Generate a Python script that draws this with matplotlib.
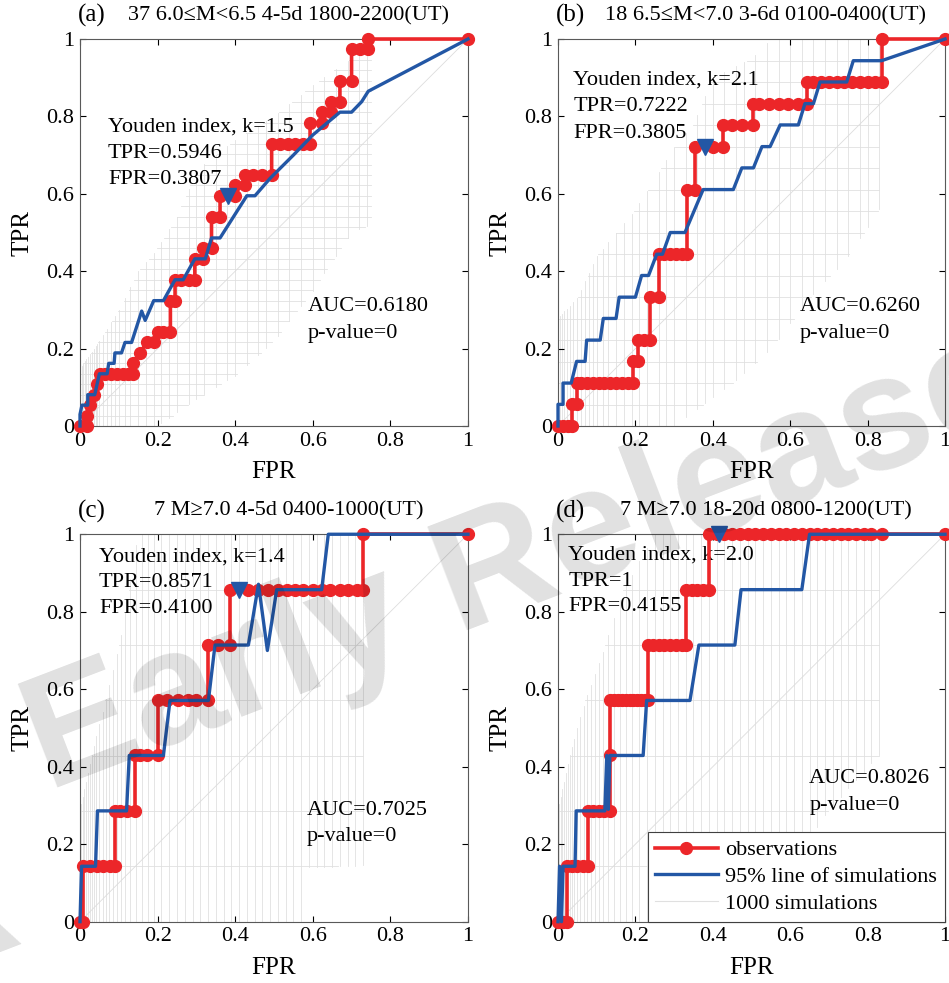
import matplotlib
matplotlib.use("Agg")
import matplotlib.pyplot as plt
from matplotlib.lines import Line2D
import numpy as np

plt.rcParams["font.family"] = ["Liberation Serif", "DejaVu Serif"]

RED = "#ec2629"
BLUE = "#2357a5"
SIM_GRAY = "#e0e0e0"

TICKS = [0, 0.2, 0.4, 0.6, 0.8, 1.0]
TICK_LABELS = ["0", "0.2", "0.4", "0.6", "0.8", "1"]

# ---------------- panel (a) ----------------
a_title = "37 6.0≤M<6.5 4-5d 1800-2200(UT)"
a_obs_fpr = [0, 0.017, 0.017, 0.026, 0.035, 0.045, 0.052, 0.065, 0.08, 0.095, 0.11, 0.125,
             0.137, 0.137, 0.155, 0.172, 0.19, 0.2, 0.215, 0.233, 0.233, 0.245, 0.245, 0.26,
             0.28, 0.296, 0.296, 0.318, 0.318, 0.339, 0.339, 0.361, 0.361, 0.40, 0.40, 0.425,
             0.425, 0.447, 0.468, 0.494, 0.494, 0.515, 0.535, 0.555, 0.575, 0.593, 0.593,
             0.623, 0.623, 0.648, 0.648, 0.67, 0.67, 0.70, 0.70, 0.722, 0.743, 0.743, 1.0]
a_obs_tpr = [0, 0, 0.027, 0.054, 0.081, 0.108, 0.135, 0.135, 0.135, 0.135, 0.135, 0.135,
             0.135, 0.162, 0.189, 0.216, 0.216, 0.243, 0.243, 0.243, 0.324, 0.324, 0.378, 0.378,
             0.378, 0.378, 0.432, 0.432, 0.459, 0.459, 0.541, 0.541, 0.595, 0.595, 0.622, 0.622,
             0.649, 0.649, 0.649, 0.649, 0.730, 0.730, 0.730, 0.730, 0.730, 0.730, 0.784,
             0.784, 0.811, 0.811, 0.838, 0.838, 0.892, 0.892, 0.973, 0.973, 0.973, 1.0, 1.0]
a_sim95_fpr = [0, 0, 0.005, 0.02, 0.02, 0.038, 0.05, 0.07, 0.074, 0.088, 0.09, 0.107, 0.116,
               0.133, 0.159, 0.168, 0.19, 0.215, 0.245, 0.266, 0.296, 0.323, 0.339, 0.361,
               0.43, 0.451, 0.49, 0.55, 0.60, 0.67, 0.70, 0.726, 0.743, 1.0]
a_sim95_tpr = [0, 0.03, 0.054, 0.054, 0.081, 0.081, 0.135, 0.135, 0.162, 0.162, 0.189, 0.189,
               0.216, 0.216, 0.297, 0.273, 0.324, 0.324, 0.378, 0.378, 0.432, 0.432, 0.486,
               0.486, 0.595, 0.595, 0.64, 0.70, 0.752, 0.811, 0.811, 0.838, 0.865, 1.0]
a_youden = (0.3807, 0.5946)
a_text = ["Youden index, k=1.5", "TPR=0.5946", "FPR=0.3807"]
a_auc = ["AUC=0.6180", "p-value=0"]
a_n = 37
a_sim_x = [0.004, 0.008, 0.012, 0.016, 0.02, 0.025, 0.03, 0.035, 0.04, 0.045, 0.05, 0.06,
           0.07, 0.08, 0.09, 0.10, 0.115, 0.13, 0.15, 0.17, 0.19, 0.21, 0.23, 0.25, 0.28,
           0.30, 0.32, 0.35, 0.38, 0.40, 0.43, 0.46, 0.48, 0.51, 0.54, 0.57, 0.60, 0.63,
           0.66, 0.69, 0.72, 0.74]
a_up_x = [0, 0.05, 0.1, 0.15, 0.2, 0.25, 0.3, 0.4, 0.5, 0.6, 0.7, 0.75]
a_up_y = [0.15, 0.22, 0.30, 0.40, 0.46, 0.54, 0.66, 0.74, 0.80, 0.88, 0.95, 0.97]
a_lo_x = [0.2, 0.3, 0.4, 0.5, 0.6, 0.7, 0.75]
a_lo_y = [0, 0.07, 0.13, 0.22, 0.35, 0.5, 0.52]
a_xmax = 0.75

# ---------------- panel (b) ----------------
b_title = "18 6.5≤M<7.0 3-6d 0100-0400(UT)"
b_obs_fpr = [0, 0.013, 0.026, 0.035, 0.035, 0.048, 0.048, 0.06, 0.075, 0.09, 0.105, 0.12,
             0.135, 0.15, 0.165, 0.18, 0.195, 0.195, 0.207, 0.207, 0.222, 0.237, 0.237, 0.26,
             0.26, 0.275, 0.29, 0.305, 0.32, 0.333, 0.333, 0.355, 0.355, 0.40, 0.427, 0.427,
             0.45, 0.475, 0.505, 0.505, 0.52, 0.545, 0.57, 0.595, 0.62, 0.643, 0.643, 0.66,
             0.68, 0.70, 0.72, 0.74, 0.76, 0.78, 0.80, 0.82, 0.836, 0.836, 1.0]
b_obs_tpr = [0, 0, 0, 0, 0.056, 0.056, 0.111, 0.111, 0.111, 0.111, 0.111, 0.111, 0.111,
             0.111, 0.111, 0.111, 0.111, 0.167, 0.167, 0.222, 0.222, 0.222, 0.333, 0.333,
             0.444, 0.444, 0.444, 0.444, 0.444, 0.444, 0.611, 0.611, 0.722, 0.722, 0.722,
             0.778, 0.778, 0.778, 0.778, 0.833, 0.833, 0.833, 0.833, 0.833, 0.833, 0.833,
             0.889, 0.889, 0.889, 0.889, 0.889, 0.889, 0.889, 0.889, 0.889, 0.889, 0.889, 1.0, 1.0]
b_sim95_fpr = [0, 0, 0.013, 0.013, 0.034, 0.048, 0.07, 0.074, 0.109, 0.117, 0.15, 0.158, 0.2,
               0.216, 0.234, 0.255, 0.27, 0.29, 0.328, 0.375, 0.453, 0.475, 0.505, 0.527,
               0.548, 0.574, 0.621, 0.638, 0.66, 0.677, 0.746, 0.763, 0.836, 1.0]
b_sim95_tpr = [0, 0.056, 0.056, 0.111, 0.111, 0.167, 0.167, 0.222, 0.222, 0.278, 0.278, 0.333,
               0.333, 0.389, 0.389, 0.444, 0.444, 0.5, 0.5, 0.611, 0.611, 0.667, 0.667, 0.722,
               0.722, 0.778, 0.778, 0.833, 0.833, 0.889, 0.889, 0.944, 0.944, 1.0]
b_youden = (0.3805, 0.7222)
b_text = ["Youden index, k=2.1", "TPR=0.7222", "FPR=0.3805"]
b_auc = ["AUC=0.6260", "p-value=0"]
b_n = 18
b_sim_x = [0.004, 0.01, 0.016, 0.022, 0.03, 0.04, 0.05, 0.06, 0.07, 0.08, 0.09, 0.10, 0.115,
           0.13, 0.15, 0.17, 0.19, 0.21, 0.23, 0.26, 0.28, 0.30, 0.33, 0.36, 0.38, 0.40,
           0.43, 0.46, 0.48, 0.51, 0.54, 0.57, 0.60, 0.63, 0.66, 0.69, 0.72, 0.75, 0.78,
           0.80, 0.83]
b_up_x = [0, 0.05, 0.1, 0.15, 0.2, 0.3, 0.35, 0.4, 0.5, 0.55]
b_up_y = [0.28, 0.33, 0.44, 0.5, 0.56, 0.72, 0.78, 0.9, 0.95, 1.0]
b_lo_x = [0.3, 0.38, 0.45, 0.55, 0.65, 0.75, 0.83]
b_lo_y = [0, 0.06, 0.11, 0.2, 0.33, 0.44, 0.56]
b_xmax = 0.83

# ---------------- panel (c) ----------------
c_title = "7 M≥7.0 4-5d 0400-1000(UT)"
c_obs_fpr = [0, 0.009, 0.009, 0.026, 0.043, 0.06, 0.077, 0.09, 0.09, 0.103, 0.12, 0.142,
             0.142, 0.155, 0.172, 0.2, 0.2, 0.223, 0.253, 0.279, 0.30, 0.331, 0.331, 0.357,
             0.387, 0.387, 0.434, 0.46, 0.485, 0.511, 0.533, 0.554, 0.576, 0.601, 0.623,
             0.644, 0.67, 0.692, 0.713, 0.73, 0.73, 1.0]
c_obs_tpr = [0, 0, 0.143, 0.143, 0.143, 0.143, 0.143, 0.143, 0.286, 0.286, 0.286, 0.286,
             0.429, 0.429, 0.429, 0.429, 0.571, 0.571, 0.571, 0.571, 0.571, 0.571, 0.714, 0.714,
             0.714, 0.857, 0.857, 0.857, 0.857, 0.857, 0.857, 0.857, 0.857, 0.857, 0.857,
             0.857, 0.857, 0.857, 0.857, 0.857, 1.0, 1.0]
c_sim95_fpr = [0, 0.004, 0.04, 0.045, 0.12, 0.127, 0.215, 0.232, 0.331, 0.348, 0.434, 0.46,
               0.483, 0.507, 0.623, 0.64, 1.0]
c_sim95_tpr = [0, 0.143, 0.143, 0.286, 0.286, 0.429, 0.429, 0.571, 0.571, 0.714, 0.714, 0.871,
               0.70, 0.857, 0.857, 1.0, 1.0]
c_youden = (0.41, 0.8571)
c_text = ["Youden index, k=1.4", "TPR=0.8571", "FPR=0.4100"]
c_auc = ["AUC=0.7025", "p-value=0"]
c_n = 7
c_sim_x = [0.003, 0.007, 0.011, 0.015, 0.02, 0.025, 0.03, 0.036, 0.042, 0.05, 0.058, 0.066,
           0.075, 0.085, 0.095, 0.105, 0.115, 0.13, 0.145, 0.16, 0.175, 0.19, 0.21, 0.23,
           0.25, 0.27, 0.29, 0.31, 0.33, 0.35, 0.37, 0.39, 0.41, 0.43, 0.45, 0.47, 0.49, 0.51,
           0.53, 0.55, 0.57, 0.59, 0.61, 0.63, 0.65, 0.67, 0.69, 0.71, 0.73]
c_up_x = [0, 0.03, 0.1, 0.15]
c_up_y = [0.29, 0.43, 0.71, 1.0]
c_lo_x = [0.57, 0.58, 0.73]
c_lo_y = [0, 0.14, 0.145]
c_xmax = 0.73

# ---------------- panel (d) ----------------
d_title = "7 M≥7.0 18-20d 0800-1200(UT)"
d_obs_fpr = [0, 0.012, 0.022, 0.022, 0.035, 0.05, 0.065, 0.078, 0.078, 0.09, 0.105, 0.12,
             0.134, 0.134, 0.134, 0.145, 0.155, 0.165, 0.175, 0.185, 0.195, 0.205, 0.215,
             0.225, 0.232, 0.232, 0.245, 0.26, 0.275, 0.29, 0.305, 0.32, 0.33, 0.33, 0.345,
             0.36, 0.375, 0.39, 0.39, 0.41, 0.43, 0.45, 0.47, 0.49, 0.51, 0.53, 0.55, 0.57,
             0.59, 0.61, 0.63, 0.65, 0.67, 0.69, 0.71, 0.73, 0.75, 0.77, 0.79, 0.81, 0.836, 1.0]
d_obs_tpr = [0, 0, 0, 0.143, 0.143, 0.143, 0.143, 0.143, 0.286, 0.286, 0.286, 0.286, 0.286,
             0.429, 0.571, 0.571, 0.571, 0.571, 0.571, 0.571, 0.571, 0.571, 0.571, 0.571,
             0.571, 0.714, 0.714, 0.714, 0.714, 0.714, 0.714, 0.714, 0.714, 0.857, 0.857,
             0.857, 0.857, 0.857, 1.0, 1.0, 1.0, 1.0, 1.0, 1.0, 1.0, 1.0, 1.0, 1.0, 1.0, 1.0,
             1.0, 1.0, 1.0, 1.0, 1.0, 1.0, 1.0, 1.0, 1.0, 1.0, 1.0, 1.0]
d_sim95_fpr = [0, 0.004, 0.009, 0.013, 0.044, 0.047, 0.121, 0.126, 0.13, 0.134, 0.22, 0.229,
               0.341, 0.364, 0.457, 0.473, 0.63, 0.65, 1.0]
d_sim95_tpr = [0, 0.143, 0.0, 0.143, 0.143, 0.286, 0.286, 0.429, 0.29, 0.429, 0.429, 0.571,
               0.571, 0.714, 0.714, 0.857, 0.857, 1.0, 1.0]
d_youden = (0.4155, 1.0)
d_text = ["Youden index, k=2.0", "TPR=1", "FPR=0.4155"]
d_auc = ["AUC=0.8026", "p-value=0"]
d_n = 7
d_sim_x = [0.003, 0.007, 0.011, 0.015, 0.02, 0.025, 0.03, 0.036, 0.042, 0.05, 0.058, 0.066,
           0.075, 0.085, 0.095, 0.105, 0.115, 0.13, 0.145, 0.16, 0.175, 0.19, 0.21, 0.23,
           0.25, 0.27, 0.29, 0.31, 0.33, 0.35, 0.37, 0.39, 0.41, 0.43, 0.45, 0.47, 0.49, 0.51,
           0.53, 0.55, 0.57, 0.59, 0.61, 0.63, 0.65, 0.67, 0.69, 0.71, 0.73, 0.75, 0.77, 0.79,
           0.81, 0.83]
d_up_x = [0, 0.03, 0.07, 0.12, 0.17, 0.25]
d_up_y = [0.29, 0.43, 0.57, 0.71, 0.86, 1.0]
d_lo_x = [0.5, 0.6, 0.7, 0.83]
d_lo_y = [0, 0.14, 0.29, 0.43]
d_xmax = 0.83


def draw_sims(ax, n, xs, up_x, up_y, lo_x, lo_y, x_max):
    # mesh of the 1000 simulated ROC curves, kept inside their envelope
    for k in range(1, n + 1):
        y = k / n
        x0 = np.interp(y, up_y, up_x)
        x1 = min(np.interp(y, lo_y, lo_x), x_max)
        if x1 > x0:
            ax.plot([x0, x1], [y, y], color=SIM_GRAY, lw=0.6, zorder=1)
    for x in xs:
        y0 = np.interp(x, lo_x, lo_y)
        y1 = np.interp(x, up_x, up_y)
        ax.plot([x, x], [y0, y1], color=SIM_GRAY, lw=0.6, zorder=1)


def draw_panel(ax, tag, title, obs_fpr, obs_tpr, s_fpr, s_tpr, youden, text_lines,
               auc_lines, text_pos, auc_pos, sims):
    draw_sims(ax, *sims)
    ax.plot([0, 1], [0, 1], color="#dddddd", lw=0.6, zorder=1.5)
    ax.plot(obs_fpr, obs_tpr, "-o", color=RED, lw=2.6, ms=8.5, mec=RED, mfc=RED,
            clip_on=False, zorder=4)
    ax.plot(s_fpr, s_tpr, "-", color=BLUE, lw=2.4, clip_on=False, zorder=5)
    ax.plot([youden[0]], [youden[1]], "v", color=BLUE, ms=12, clip_on=False, zorder=6)

    ax.set_xlim(0, 1)
    ax.set_ylim(0, 1)
    ax.set_xticks(TICKS)
    ax.set_xticklabels(TICK_LABELS)
    ax.set_yticks(TICKS)
    ax.set_yticklabels(TICK_LABELS)
    ax.tick_params(direction="in", length=4, width=0.8, top=True, right=True,
                   labelsize=16, pad=4)
    for sp in ax.spines.values():
        sp.set_color("0.35")
        sp.set_linewidth(0.8)
    ax.set_xlabel("FPR", fontsize=18)
    ax.set_ylabel("TPR", fontsize=18)
    ax.xaxis.set_label_coords(0.5, -0.09)
    ax.yaxis.set_label_coords(-0.12, 0.5)

    ax.text(-0.005, 1.06, tag, transform=ax.transAxes, fontsize=18, ha="left", va="center")
    ax.text(0.537, 1.06, title, transform=ax.transAxes, fontsize=16, ha="center", va="center")

    tx, tys = text_pos
    for line, ty in zip(text_lines, tys):
        ax.text(tx, ty, line, transform=ax.transAxes, fontsize=16, ha="left", va="center",
                zorder=3)
    ax_, ays = auc_pos
    for line, ay in zip(auc_lines, ays):
        ax.text(ax_, ay, line, transform=ax.transAxes, fontsize=16, ha="left", va="center",
                zorder=3)


fig = plt.figure(figsize=(9.49, 9.83), dpi=100)
ax_a = fig.add_axes([0.0843, 0.5666, 0.4088, 0.3937])
ax_b = fig.add_axes([0.5880, 0.5666, 0.4078, 0.3937])
ax_c = fig.add_axes([0.0843, 0.0624, 0.4088, 0.3941])
ax_d = fig.add_axes([0.5880, 0.0624, 0.4078, 0.3941])

draw_panel(ax_a, "(a)", a_title, a_obs_fpr, a_obs_tpr, a_sim95_fpr, a_sim95_tpr, a_youden,
           a_text, a_auc, (0.072, [0.773, 0.705, 0.636]), (0.588, [0.308, 0.239]),
           (a_n, a_sim_x, a_up_x, a_up_y, a_lo_x, a_lo_y, a_xmax))
draw_panel(ax_b, "(b)", b_title, b_obs_fpr, b_obs_tpr, b_sim95_fpr, b_sim95_tpr, b_youden,
           b_text, b_auc, (0.039, [0.894, 0.825, 0.757]), (0.625, [0.308, 0.239]),
           (b_n, b_sim_x, b_up_x, b_up_y, b_lo_x, b_lo_y, b_xmax))
draw_panel(ax_c, "(c)", c_title, c_obs_fpr, c_obs_tpr, c_sim95_fpr, c_sim95_tpr, c_youden,
           c_text, c_auc, (0.049, [0.942, 0.876, 0.809]), (0.584, [0.288, 0.219]),
           (c_n, c_sim_x, c_up_x, c_up_y, c_lo_x, c_lo_y, c_xmax))
draw_panel(ax_d, "(d)", d_title, d_obs_fpr, d_obs_tpr, d_sim95_fpr, d_sim95_tpr, d_youden,
           d_text, d_auc, (0.026, [0.947, 0.879, 0.813]), (0.649, [0.370, 0.301]),
           (d_n, d_sim_x, d_up_x, d_up_y, d_lo_x, d_lo_y, d_xmax))

handles = [
    Line2D([], [], color=RED, lw=2.6, marker="o", ms=8.5, markevery=[1]),
    Line2D([], [], color=BLUE, lw=2.4),
    Line2D([], [], color="#e0e0e0", lw=0.8),
]
leg = ax_d.legend(handles, ["observations", "95% line of simulations", "1000 simulations"],
                  loc="lower right", bbox_to_anchor=(1.0, 0.0), borderaxespad=0,
                  fontsize=16, handlelength=2.8, handletextpad=0.35, labelspacing=0.28,
                  borderpad=0.35, fancybox=False, framealpha=1, edgecolor="0.25")
leg.get_frame().set_linewidth(0.8)
leg.set_zorder(10)

# journal watermark
wm_font = ["Liberation Sans", "DejaVu Sans"]
fig.text(0.05, 0.195, "Early Release", rotation=21, rotation_mode="anchor",
         fontsize=116, weight="bold", color="black", alpha=0.12, ha="left", va="baseline",
         family=wm_font, zorder=100)
fig.text(-0.032, 0.069, "▲", rotation=21, rotation_mode="anchor",
         fontsize=100, weight="bold", color="black", alpha=0.12, ha="center", va="center",
         family=wm_font, zorder=100)

fig.savefig("out.png", dpi=100)
